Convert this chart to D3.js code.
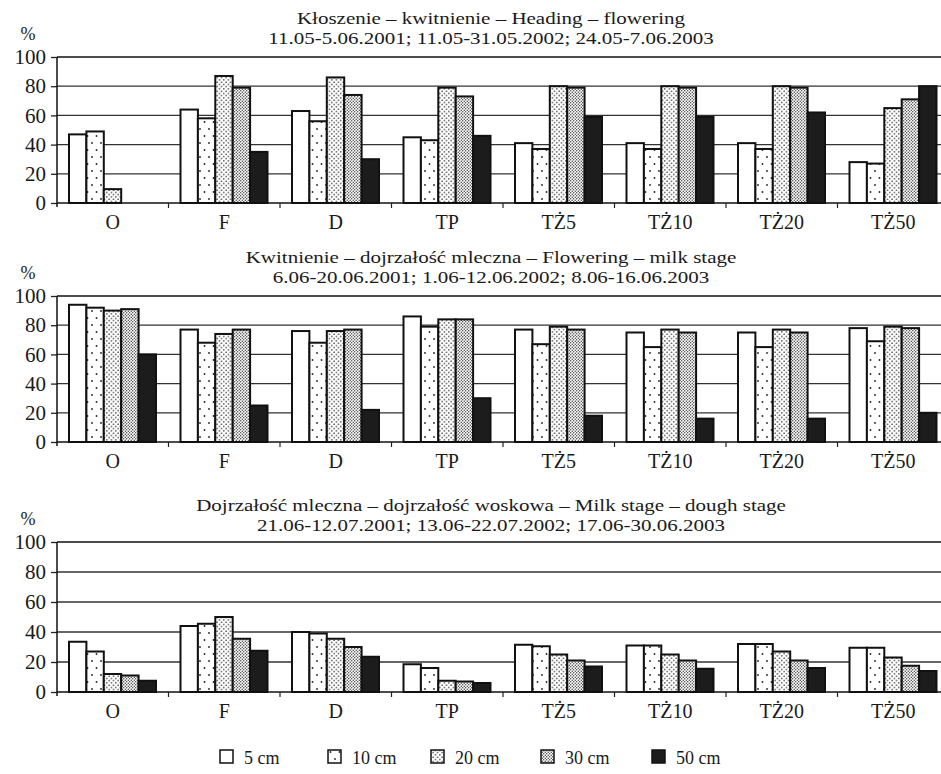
<!DOCTYPE html>
<html>
<head>
<meta charset="utf-8">
<script src="https://cdn.jsdelivr.net/npm/d3@7.9.0/dist/d3.min.js"></script>
<style>
  body { margin: 0; background: #fff; }
  svg { display: block; }
  text { font-family: "Liberation Serif", "Times New Roman", serif; fill: #1a1a1a; }
</style>
</head>
<body>
<svg id="chart" width="941" height="774"></svg>
<script>
// categories and series
const categories = ["O", "F", "D", "TP", "TŻ5", "TŻ10", "TŻ20", "TŻ50"];
const depths = ["5 cm", "10 cm", "20 cm", "30 cm", "50 cm"];
const yTicks = [0, 20, 40, 60, 80, 100];

// Heading - flowering, one row per depth
const headingValues = [
  [47, 64, 63, 45, 41, 41, 41, 28],
  [49, 58, 56, 43, 37, 37, 37, 27],
  [9.5, 87, 86, 79, 80, 80, 80, 65],
  [0, 79, 74, 73, 79, 79, 79, 71],
  [0, 35, 30, 46, 59, 59, 62, 80]
];
// Flowering - milk stage
const floweringValues = [
  [94, 77, 76, 86, 77, 75, 75, 78],
  [92, 68, 68, 79, 67, 65, 65, 69],
  [90, 74, 76, 84, 79, 77, 77, 79],
  [91, 77, 77, 84, 77, 75, 75, 78],
  [60, 25, 22, 30, 18, 16, 16, 20]
];
// Milk stage - dough stage
const milkValues = [
  [33.5, 44, 40, 18.5, 31.5, 31, 32, 29.5],
  [27, 45.5, 39, 16, 30.5, 31, 32, 29.5],
  [12, 50, 35.5, 7.5, 25, 25, 27, 23],
  [11, 35.5, 30, 7, 21, 21, 21, 17.5],
  [7.5, 27.5, 23.5, 6, 17, 15.5, 16, 14]
];

const headingTitle = ["Kłoszenie – kwitnienie – Heading – flowering",
  "11.05-5.06.2001; 11.05-31.05.2002; 24.05-7.06.2003"];
const floweringTitle = ["Kwitnienie – dojrzałość mleczna – Flowering – milk stage",
  "6.06-20.06.2001; 1.06-12.06.2002; 8.06-16.06.2003"];
const milkTitle = ["Dojrzałość mleczna – dojrzałość woskowa – Milk stage – dough stage",
  "21.06-12.07.2001; 13.06-22.07.2002; 17.06-30.06.2003"];

const svg = d3.select("#chart");
const left = 57, right = 949;

// fill patterns
const defs = svg.append("defs");
const fills = ["#fff", "url(#pat10)", "url(#pat20)", "url(#pat30)", "#1c1c1c"];

let p = defs.append("pattern").attr("id", "pat10").attr("patternUnits", "userSpaceOnUse")
  .attr("width", 9).attr("height", 14);
p.append("rect").attr("width", 9).attr("height", 14).attr("fill", "#fff");
p.append("circle").attr("cx", 2).attr("cy", 3).attr("r", 0.9).attr("fill", "#222");
p.append("circle").attr("cx", 6.5).attr("cy", 10).attr("r", 0.9).attr("fill", "#222");

p = defs.append("pattern").attr("id", "pat20").attr("patternUnits", "userSpaceOnUse")
  .attr("width", 4.5).attr("height", 4.5);
p.append("rect").attr("width", 4.5).attr("height", 4.5).attr("fill", "#fff");
p.append("circle").attr("cx", 1.1).attr("cy", 1.1).attr("r", 0.75).attr("fill", "#222");
p.append("circle").attr("cx", 3.35).attr("cy", 3.35).attr("r", 0.75).attr("fill", "#222");

p = defs.append("pattern").attr("id", "pat30").attr("patternUnits", "userSpaceOnUse")
  .attr("width", 3).attr("height", 3);
p.append("rect").attr("width", 3).attr("height", 3).attr("fill", "#fff");
p.append("circle").attr("cx", 0.75).attr("cy", 0.75).attr("r", 0.7).attr("fill", "#333");
p.append("circle").attr("cx", 2.25).attr("cy", 2.25).attr("r", 0.7).attr("fill", "#333");

const x0 = d3.scaleBand().domain(categories).range([left, right]).padding(0);
const x1 = d3.scaleBand().domain(depths).range([12, 99]).padding(0);

const panels = [
  { title: headingTitle, values: headingValues, top: 57, bottom: 203, titleY: 24 },
  { title: floweringTitle, values: floweringValues, top: 296, bottom: 442, titleY: 263 },
  { title: milkTitle, values: milkValues, top: 542, bottom: 692, titleY: 511 }
];

panels.forEach(panel => {
  const g = svg.append("g");
  const y = d3.scaleLinear().domain([0, 100]).range([panel.bottom, panel.top]);

  // titles (the print is a bit wide, so stretch horizontally)
  g.selectAll("text.title")
    .data(panel.title)
    .enter()
    .append("text")
    .attr("class", "title")
    .attr("transform", (d, i) => `translate(491,${panel.titleY + i * 20}) scale(1.2,1)`)
    .attr("text-anchor", "middle")
    .style("font-size", "17.5px")
    .text(d => d);

  g.append("text")
    .attr("x", 28).attr("y", panel.top - 17)
    .attr("text-anchor", "middle")
    .style("font-size", "18px")
    .text("%");

  // gridlines
  g.selectAll("line.grid")
    .data(yTicks.filter(t => t > 0))
    .enter()
    .append("line")
    .attr("x1", left).attr("x2", right)
    .attr("y1", d => y(d)).attr("y2", d => y(d))
    .attr("stroke", d => d === 100 ? "#111" : "#333")
    .attr("stroke-width", d => d === 100 ? 1.5 : 1.3);

  // y axis
  const yAxis = g.append("g")
    .attr("transform", `translate(${left},0)`)
    .call(d3.axisLeft(y).tickValues(yTicks).tickSize(6).tickPadding(5));
  yAxis.select(".domain").remove();
  yAxis.selectAll(".tick line").attr("stroke", "#222").attr("stroke-width", 1.3);
  yAxis.selectAll(".tick text").style("font-size", "21px").style("font-family", "Liberation Serif").attr("fill", "#1a1a1a");

  // bars
  depths.forEach((dep, si) => {
    g.selectAll(null)
      .data(categories.map((c, ci) => ({ c, v: panel.values[si][ci] })).filter(d => d.v > 0))
      .enter()
      .append("rect")
      .attr("x", d => x0(d.c) + x1(dep))
      .attr("y", d => y(d.v))
      .attr("width", x1.bandwidth())
      .attr("height", d => y(0) - y(d.v))
      .attr("fill", fills[si])
      .attr("stroke", "#111")
      .attr("stroke-width", 2);
  });

  // axes lines
  g.append("line")
    .attr("x1", left).attr("x2", left)
    .attr("y1", panel.top).attr("y2", panel.bottom + 4)
    .attr("stroke", "#111").attr("stroke-width", 1.5);
  g.append("line")
    .attr("x1", left).attr("x2", right)
    .attr("y1", panel.bottom).attr("y2", panel.bottom)
    .attr("stroke", "#111").attr("stroke-width", 1.5);

  // category boundary ticks
  g.selectAll("line.ctick")
    .data(categories.slice(1))
    .enter()
    .append("line")
    .attr("x1", d => x0(d)).attr("x2", d => x0(d))
    .attr("y1", panel.bottom).attr("y2", panel.bottom + 5)
    .attr("stroke", "#222").attr("stroke-width", 1.2);

  // category labels
  const xAxis = g.append("g")
    .attr("transform", `translate(0,${panel.bottom})`)
    .call(d3.axisBottom(x0).tickSize(0).tickPadding(12));
  xAxis.select(".domain").remove();
  xAxis.selectAll(".tick text").style("font-size", "20px").style("font-family", "Liberation Serif").attr("fill", "#1a1a1a");
});

// legend
const legendX = [220, 328, 431, 541, 652];
const legend = svg.append("g");
depths.forEach((dep, i) => {
  legend.append("rect")
    .attr("x", legendX[i]).attr("y", 750)
    .attr("width", 13).attr("height", 13)
    .attr("fill", fills[i])
    .attr("stroke", "#111").attr("stroke-width", 1.5);
  legend.append("text")
    .attr("x", legendX[i] + 24).attr("y", 764)
    .style("font-size", "18px")
    .text(dep);
});
</script>
</body>
</html>
